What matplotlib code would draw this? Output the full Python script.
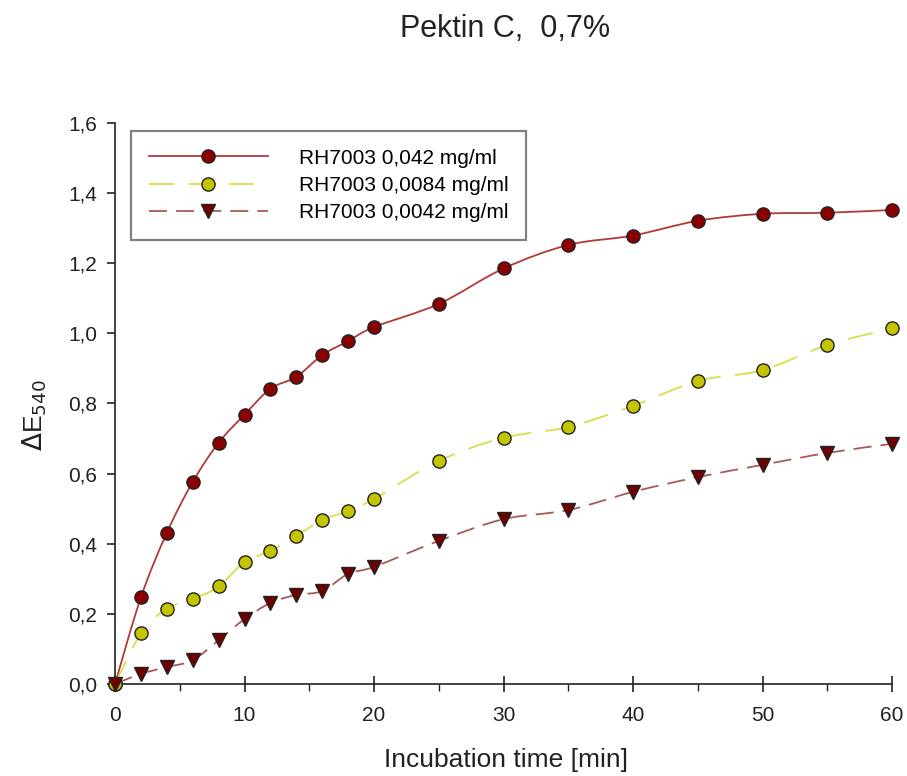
#!/usr/bin/env python3

import numpy as np
import matplotlib
matplotlib.use("Agg")
import matplotlib.pyplot as plt
from matplotlib.path import Path
from matplotlib.patches import PathPatch
from matplotlib.lines import Line2D
from matplotlib.ticker import FuncFormatter, MultipleLocator

plt.rcParams['font.family'] = ['Liberation Sans', 'DejaVu Sans']

# incubation time [min]
time_min = [0, 2, 4, 6, 8, 10, 12, 14, 16, 18, 20, 25, 30, 35, 40, 45, 50, 55, 60]

# delta E540 for the three RH7003 concentrations
rh_0042 = [0.0, 0.247, 0.431, 0.576, 0.688, 0.768, 0.842, 0.876, 0.938, 0.978, 1.018,
           1.084, 1.185, 1.252, 1.279, 1.321, 1.341, 1.344, 1.352]
rh_00084 = [0.0, 0.144, 0.215, 0.242, 0.278, 0.348, 0.379, 0.422, 0.468, 0.493, 0.528,
            0.636, 0.702, 0.733, 0.793, 0.864, 0.895, 0.967, 1.014]
rh_00042 = [0.0, 0.029, 0.048, 0.068, 0.125, 0.185, 0.231, 0.254, 0.265, 0.314, 0.334,
            0.408, 0.470, 0.496, 0.548, 0.590, 0.625, 0.659, 0.685]

labels = ["RH7003 0,042 mg/ml", "RH7003 0,0084 mg/ml", "RH7003 0,0042 mg/ml"]


def smooth_path(x, y):
    # Catmull-Rom curve through the points, drawn as cubic Bezier segments
    pts = np.column_stack([x, y]).astype(float)
    n = len(pts)
    verts = [pts[0]]
    codes = [Path.MOVETO]
    for i in range(n - 1):
        p0 = pts[i - 1] if i > 0 else pts[i]
        p3 = pts[i + 2] if i + 2 < n else pts[i + 1]
        c1 = pts[i] + (pts[i + 1] - p0) / 6.0
        c2 = pts[i + 1] - (p3 - pts[i]) / 6.0
        verts += [c1, c2, pts[i + 1]]
        codes += [Path.CURVE4] * 3
    return Path(verts, codes)


fig = plt.figure(figsize=(9.07, 7.76), dpi=100)
ax = fig.add_axes([0.1268, 0.1186, 0.8567, 0.7229])

styles = [
    dict(line="#b03a3a", ls="-", marker="o", face="#8b0000", data=rh_0042),
    dict(line="#d8de4a", ls=(0, (14, 8)), marker="o", face="#c4c400", data=rh_00084),
    dict(line="#a85a5a", ls=(0, (10, 5)), marker="v", face="#6e0000", data=rh_00042),
]

handles = []
for st, lab in zip(styles, labels):
    patch = PathPatch(smooth_path(time_min, st["data"]), facecolor="none",
                      edgecolor=st["line"], linewidth=1.3, linestyle=st["ls"],
                      zorder=2, clip_on=False)
    ax.add_patch(patch)
    ax.plot(time_min, st["data"], linestyle="none", marker=st["marker"],
            markersize=9.5, markerfacecolor=st["face"], markeredgecolor="#222222",
            markeredgewidth=1.0, zorder=3, clip_on=False)
    handles.append(Line2D([], [], color=st["line"], linestyle=st["ls"], linewidth=1.3,
                          marker=st["marker"], markersize=9.5,
                          markerfacecolor=st["face"], markeredgecolor="#222222",
                          markeredgewidth=1.0))

ax.set_xlim(0, 60)
ax.set_ylim(0, 1.6)

for side in ("top", "right"):
    ax.spines[side].set_visible(False)
for side in ("left", "bottom"):
    ax.spines[side].set_linewidth(1.2)
    ax.spines[side].set_color("#222222")

ax.xaxis.set_major_locator(MultipleLocator(10))
ax.xaxis.set_minor_locator(MultipleLocator(5))
ax.yaxis.set_major_locator(MultipleLocator(0.2))
comma = FuncFormatter(lambda v, p: f"{v:.1f}".replace(".", ","))
ax.yaxis.set_major_formatter(comma)

ax.tick_params(axis="x", which="major", direction="inout", length=12, width=1.2,
               labelsize=15, pad=10, colors="#222222")
ax.tick_params(axis="x", which="minor", direction="out", length=5, width=1.0,
               colors="#222222")
ax.tick_params(axis="y", which="major", direction="out", length=6, width=1.2,
               labelsize=15, pad=7, colors="#222222")

ax.set_xlabel("Incubation time [min]", fontsize=19, color="#222222")
ax.xaxis.set_label_coords(0.503, -0.115)
ax.set_ylabel(r"$\Delta$E$_{540}$", fontsize=19, color="#222222")
ax.yaxis.set_label_coords(-0.085, 0.48)

fig.text(0.557, 0.963, "Pektin C,  0,7%", fontsize=22, ha="center", va="center",
         color="#222222")

leg = ax.legend(handles, labels, loc="upper left", bbox_to_anchor=(0.021, 0.986),
                fontsize=15, handlelength=5.7, handletextpad=1.5, labelspacing=0.4,
                borderpad=0.85, borderaxespad=0, fancybox=False, framealpha=1)
leg.get_frame().set_edgecolor("#808080")
leg.get_frame().set_linewidth(1.6)

fig.savefig("out.png", dpi=100)
print("Saved plot to out.png")
